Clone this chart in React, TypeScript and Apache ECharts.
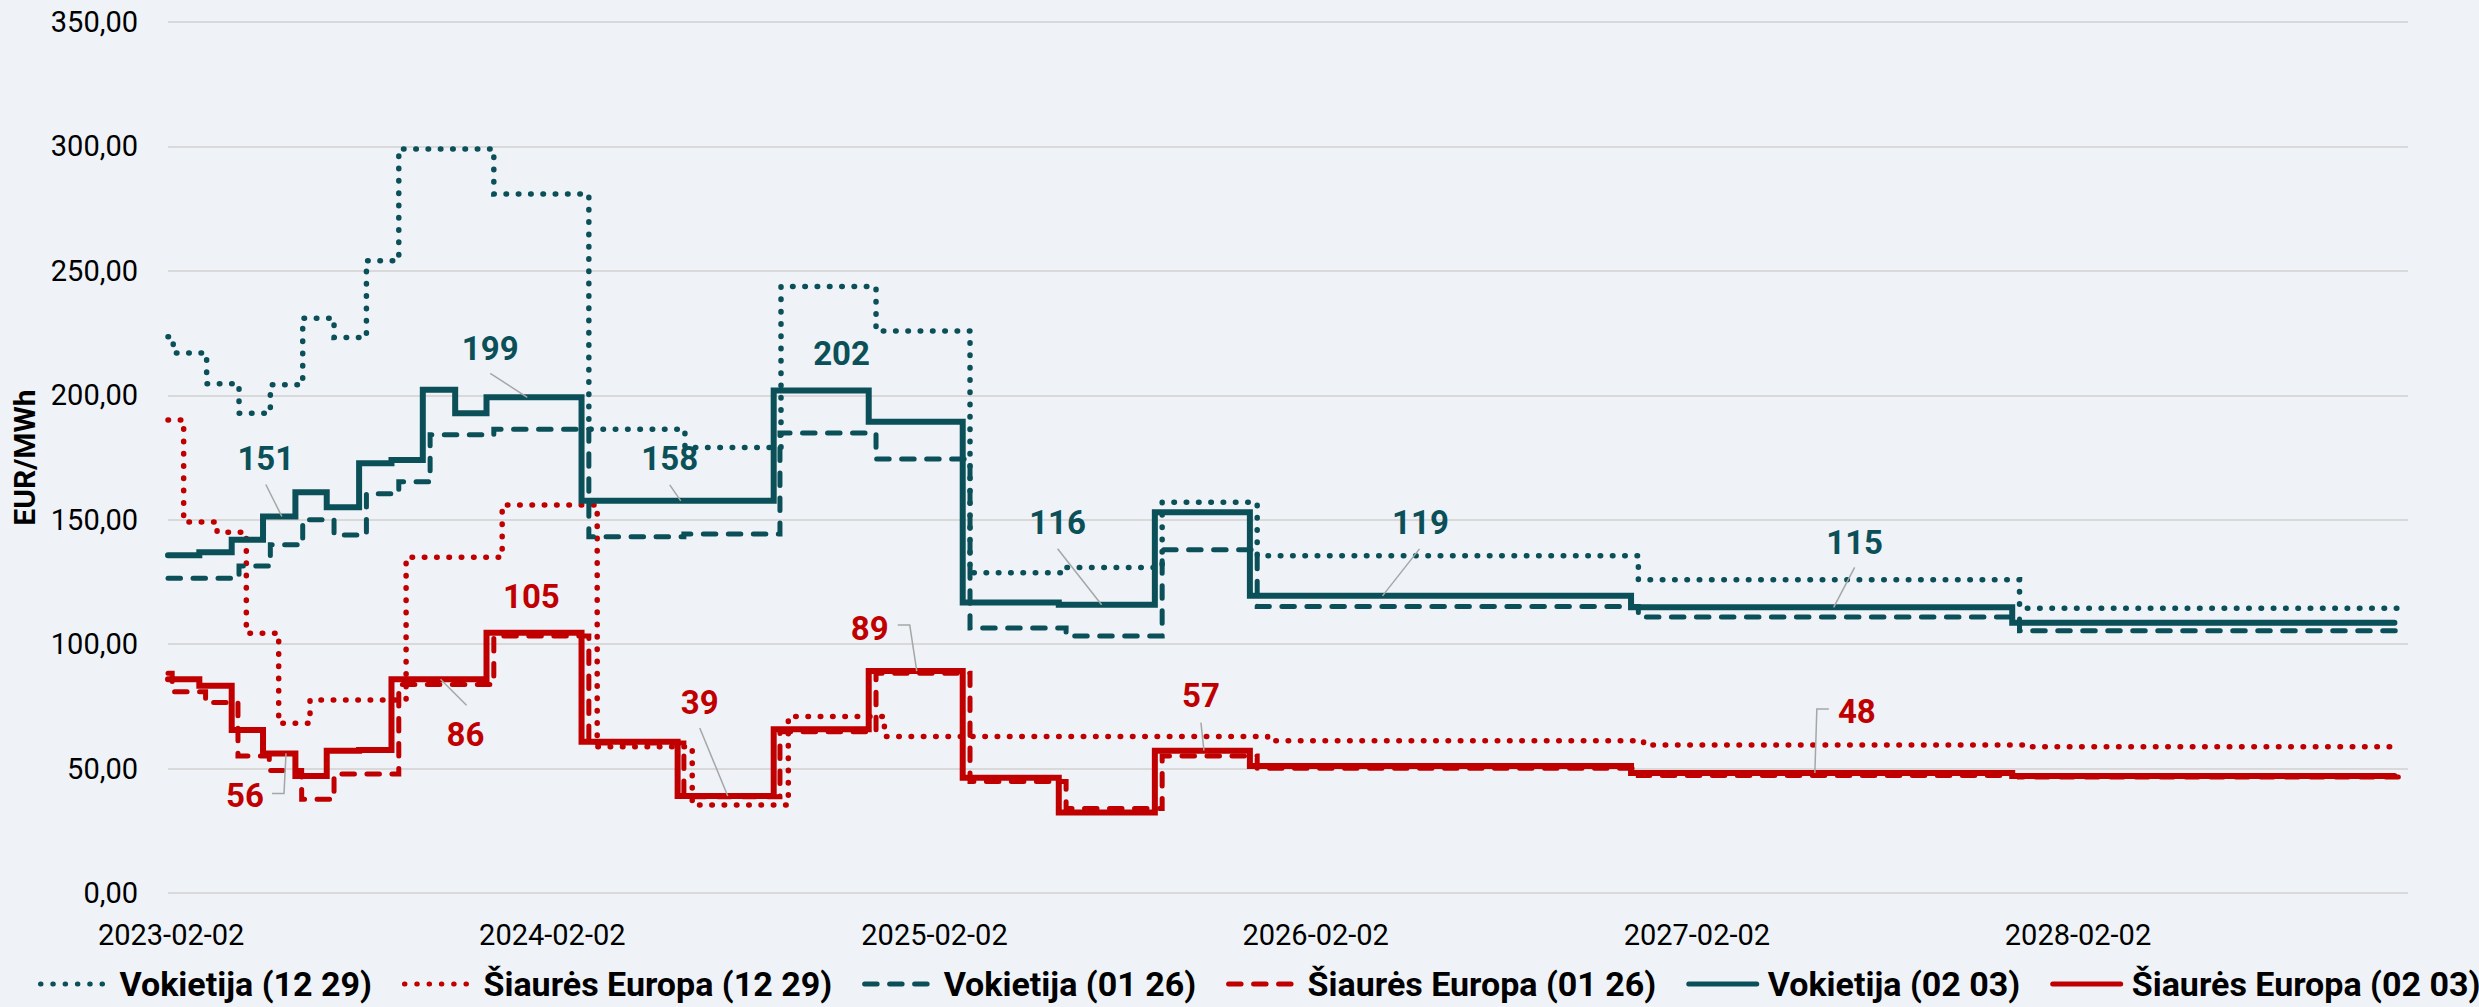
import { useEffect, useRef } from 'react';
import * as echarts from 'echarts';

const TEAL = '#0b5058';
const RED = '#c00000';
const FONT = "Roboto, 'DejaVu Sans', sans-serif";

// X axis (dates)
const xTickLabels = ['2023-02-02', '2024-02-02', '2025-02-02', '2026-02-02', '2027-02-02', '2028-02-02'];
const xAxisStart = '2023-01-30';
const xAxisEnd = '2028-12-14';

// Y axis
const yMin = 0;
const yMax = 350;
const yStep = 50;

// Vokietija (12 29) – segment start dates (last = end) and values
const deDotDates = ['2023-01-30', '2023-02-04', '2023-03-08', '2023-04-08', '2023-05-08', '2023-06-08', '2023-07-08', '2023-08-08', '2023-09-08', '2023-12-08', '2024-03-08', '2024-06-08', '2024-09-08', '2024-12-08', '2025-03-08', '2025-06-08', '2025-09-08', '2025-12-08', '2026-12-08', '2027-12-08', '2028-12-08'];
const deDotValues = [223.5, 217.0, 204.6, 192.8, 204.2, 231.0, 223.2, 254.1, 299.0, 280.9, 186.4, 179.0, 243.7, 225.8, 128.7, 130.8, 157.0, 135.5, 125.9, 114.4];

// Šiaurės Europa (12 29)
const noDotDates = ['2023-01-30', '2023-02-14', '2023-03-18', '2023-04-15', '2023-05-16', '2023-06-15', '2023-09-15', '2023-12-16', '2024-03-16', '2024-06-15', '2024-09-15', '2024-12-16', '2025-12-18', '2026-12-13', '2027-12-11', '2028-12-05'];
const noDotValues = [190.1, 149.1, 145.0, 104.4, 68.2, 77.6, 134.9, 155.9, 58.8, 35.4, 70.9, 62.9, 61.2, 59.5, 58.8];

// Vokietija (01 26)
const deDashDates = ['2023-01-30', '2023-04-08', '2023-05-08', '2023-06-08', '2023-07-08', '2023-08-08', '2023-09-08', '2023-10-08', '2023-12-08', '2024-03-08', '2024-06-07', '2024-09-07', '2024-12-08', '2025-03-08', '2025-06-08', '2025-09-08', '2025-12-08', '2026-12-08', '2027-12-08', '2028-12-08'];
const deDashValues = [126.5, 131.4, 139.9, 150.0, 143.9, 160.4, 165.3, 184.1, 186.4, 143.2, 144.3, 184.8, 174.4, 106.5, 103.3, 137.9, 115.1, 110.9, 105.4];

// Šiaurės Europa (01 26)
const noDashDates = ['2023-01-30', '2023-02-03', '2023-03-07', '2023-04-07', '2023-05-07', '2023-06-07', '2023-07-08', '2023-09-08', '2023-12-08', '2024-03-08', '2024-06-07', '2024-09-07', '2024-12-08', '2025-03-08', '2025-06-08', '2025-09-08', '2025-12-08', '2026-12-08', '2027-12-08', '2028-12-08'];
const noDashValues = [88.3, 80.9, 76.5, 55.1, 49.2, 37.7, 47.8, 83.8, 103.3, 60.3, 38.7, 64.8, 88.3, 44.8, 34.0, 55.1, 50.1, 47.2, 46.6];

// Vokietija (02 03)
const deSolidDates = ['2023-01-30', '2023-03-01', '2023-04-01', '2023-05-01', '2023-06-01', '2023-07-01', '2023-08-01', '2023-09-01', '2023-10-01', '2023-11-01', '2023-12-01', '2024-03-01', '2024-09-01', '2024-12-01', '2025-03-01', '2025-06-01', '2025-09-01', '2025-12-01', '2026-12-01', '2027-12-01', '2028-12-01'];
const deSolidValues = [135.7, 136.9, 141.9, 151.3, 161.0, 155.0, 172.7, 174.0, 202.2, 192.8, 199.2, 157.6, 201.9, 189.4, 116.7, 115.8, 153.0, 119.4, 114.8, 108.6];

// Šiaurės Europa (02 03)
const noSolidDates = ['2023-01-30', '2023-03-01', '2023-04-01', '2023-05-01', '2023-06-01', '2023-07-01', '2023-08-01', '2023-09-01', '2023-12-01', '2024-03-01', '2024-06-01', '2024-09-01', '2024-12-01', '2025-03-01', '2025-06-01', '2025-09-01', '2025-12-01', '2026-12-01', '2027-12-01', '2028-12-01'];
const noSolidValues = [85.9, 83.3, 65.5, 56.1, 47.0, 57.2, 57.5, 85.9, 104.6, 60.8, 39.0, 65.8, 89.2, 46.3, 32.3, 57.2, 51.0, 48.2, 47.0];

const seriesNames = ['Vokietija (12 29)', 'Šiaurės Europa (12 29)', 'Vokietija (01 26)', 'Šiaurės Europa (01 26)', 'Vokietija (02 03)', 'Šiaurės Europa (02 03)'];

const DOT = [0.5, 11.8];
const DASH = [12.5, 12.5];

const seriesDefs = [
  { name: seriesNames[0], dates: deDotDates, values: deDotValues, color: TEAL, width: 5.5, dash: DOT },
  { name: seriesNames[1], dates: noDotDates, values: noDotValues, color: RED, width: 5.5, dash: DOT },
  { name: seriesNames[2], dates: deDashDates, values: deDashValues, color: TEAL, width: 5, dash: DASH },
  { name: seriesNames[3], dates: noDashDates, values: noDashValues, color: RED, width: 5, dash: DASH },
  { name: seriesNames[4], dates: deSolidDates, values: deSolidValues, color: TEAL, width: 6, dash: 'solid' },
  { name: seriesNames[5], dates: noSolidDates, values: noSolidValues, color: RED, width: 6, dash: 'solid' },
];

// Value callouts: series index + anchor date; label/leader offsets are layout only
const callouts = [
  { series: 4, date: '2023-05-19', dx: -16, dy: -58, line: [[-16, -32], [0, 0]] },
  { series: 4, date: '2024-01-09', dx: -37, dy: -49, line: [[-37, -24], [0, 0]] },
  { series: 4, date: '2024-06-04', dx: -11, dy: -42, line: [[-11, -16], [0, 0]] },
  { series: 4, date: '2024-11-05', dx: 0, dy: -37, line: null },
  { series: 4, date: '2025-07-12', dx: -44, dy: -82, line: [[-44, -56], [0, 0]] },
  { series: 4, date: '2026-04-07', dx: 38, dy: -73, line: [[37, -47], [0, 0]] },
  { series: 4, date: '2027-06-13', dx: 21, dy: -65, line: [[21, -40], [0, 0]] },
  { series: 5, date: '2023-05-23', dx: -41, dy: 42, line: [[-14, 40], [-2, 40], [0, 0]] },
  { series: 5, date: '2023-10-18', dx: 25, dy: 55, line: [[26, 26], [0, 0]] },
  { series: 5, date: '2024-01-13', dx: 0, dy: -36, line: null },
  { series: 5, date: '2024-07-19', dx: -28, dy: -93, line: [[-28, -68], [0, 0]] },
  { series: 5, date: '2025-01-16', dx: -47, dy: -43, line: [[-19, -46], [-7, -46], [0, 0]] },
  { series: 5, date: '2025-10-18', dx: -3, dy: -55, line: [[-3, -28], [0, 0]] },
  { series: 5, date: '2027-05-26', dx: 42, dy: -62, line: [[14, -64], [2, -64], [0, 0]] },
];

const DAY_MS = 86400000;
const ts = (s: string) => {
  const [y, m, d] = s.split('-').map(Number);
  return Date.UTC(y, m - 1, d);
};
const ORIGIN = ts(xTickLabels[0]);
// days since the first tick date
const dayOf = (s: string) => Math.round((ts(s) - ORIGIN) / DAY_MS);
const toSteps = (dates: string[], values: number[]) =>
  dates.map((d, i) => [dayOf(d), values[Math.min(i, values.length - 1)]]);
const valueAt = (dates: string[], values: number[], date: string) => {
  const t = dayOf(date);
  let v = values[0];
  for (let i = 0; i < values.length; i++) if (dayOf(dates[i]) <= t) v = values[i];
  return v;
};
const xTickValues = xTickLabels.map(dayOf);

export default function App() {
  const ref = useRef<HTMLDivElement>(null);

  useEffect(() => {
    if (!ref.current) return;
    const chart = echarts.init(ref.current, null, { renderer: 'svg' });
    const option: any = {
      animation: false,
      backgroundColor: '#eff3f7',
      grid: { left: 168, right: 71, top: 22, bottom: 114 },
      xAxis: {
        type: 'value',
        min: dayOf(xAxisStart),
        max: dayOf(xAxisEnd),
        axisLine: { show: false },
        axisTick: { show: false },
        splitLine: { show: false },
        axisLabel: {
          customValues: xTickValues,
          formatter: (v: number) => {
            const i = xTickValues.indexOf(v);
            return i >= 0 ? xTickLabels[i] : '';
          },
          fontFamily: FONT,
          fontSize: 29,
          color: '#000',
          margin: 27,
        },
      },
      yAxis: {
        type: 'value',
        min: yMin,
        max: yMax,
        interval: yStep,
        name: 'EUR/MWh',
        nameLocation: 'middle',
        nameGap: 127,
        nameTextStyle: { fontFamily: FONT, fontWeight: 'bold', fontSize: 30, color: '#000' },
        axisLine: { show: false },
        axisTick: { show: false },
        axisLabel: {
          formatter: (v: number) => v.toFixed(2).replace('.', ','),
          fontFamily: FONT,
          fontSize: 29,
          color: '#000',
          margin: 30,
        },
        splitLine: { lineStyle: { color: '#d9d9d9', width: 2 } },
      },
      legend: {
        left: 33,
        top: 962,
        width: 2446,
        itemWidth: 68,
        itemHeight: 14,
        itemGap: 30,
        itemStyle: { opacity: 0 },
        lineStyle: { width: 5 },
        textStyle: { fontFamily: FONT, fontSize: 34, fontWeight: 'bold', color: '#000', padding: [0, 0, 0, 6] },
        data: seriesNames,
      },
      series: seriesDefs.map((s) => ({
        name: s.name,
        type: 'line',
        step: 'end',
        symbol: 'none',
        silent: true,
        data: toSteps(s.dates, s.values),
        itemStyle: { color: s.color },
        lineStyle: { color: s.color, width: s.width, type: s.dash, cap: 'round', join: 'miter' },
      })),
    };
    chart.setOption(option);

    const graphics: any[] = [];
    callouts.forEach((c) => {
      const s = seriesDefs[c.series];
      const v = valueAt(s.dates, s.values, c.date);
      const p = chart.convertToPixel({ gridIndex: 0 }, [dayOf(c.date), v]) as number[];
      if (c.line) {
        graphics.push({
          type: 'polyline',
          z: 20,
          shape: { points: c.line.map(([dx, dy]) => [p[0] + dx, p[1] + dy]) },
          style: { stroke: '#a6a6a6', lineWidth: 1.5, fill: null },
        });
      }
      graphics.push({
        type: 'text',
        z: 21,
        x: p[0] + c.dx,
        y: p[1] + c.dy,
        style: {
          text: String(Math.round(v)),
          fill: s.color,
          fontFamily: FONT,
          fontWeight: 'bold',
          fontSize: 33,
          align: 'center',
          verticalAlign: 'middle',
        },
      });
    });
    chart.setOption({ graphic: graphics });

    return () => chart.dispose();
  }, []);

  return (
    <div
      ref={ref}
      style={{ position: 'absolute', left: 0, top: 0, width: 2479, height: 1007 }}
    />
  );
}
